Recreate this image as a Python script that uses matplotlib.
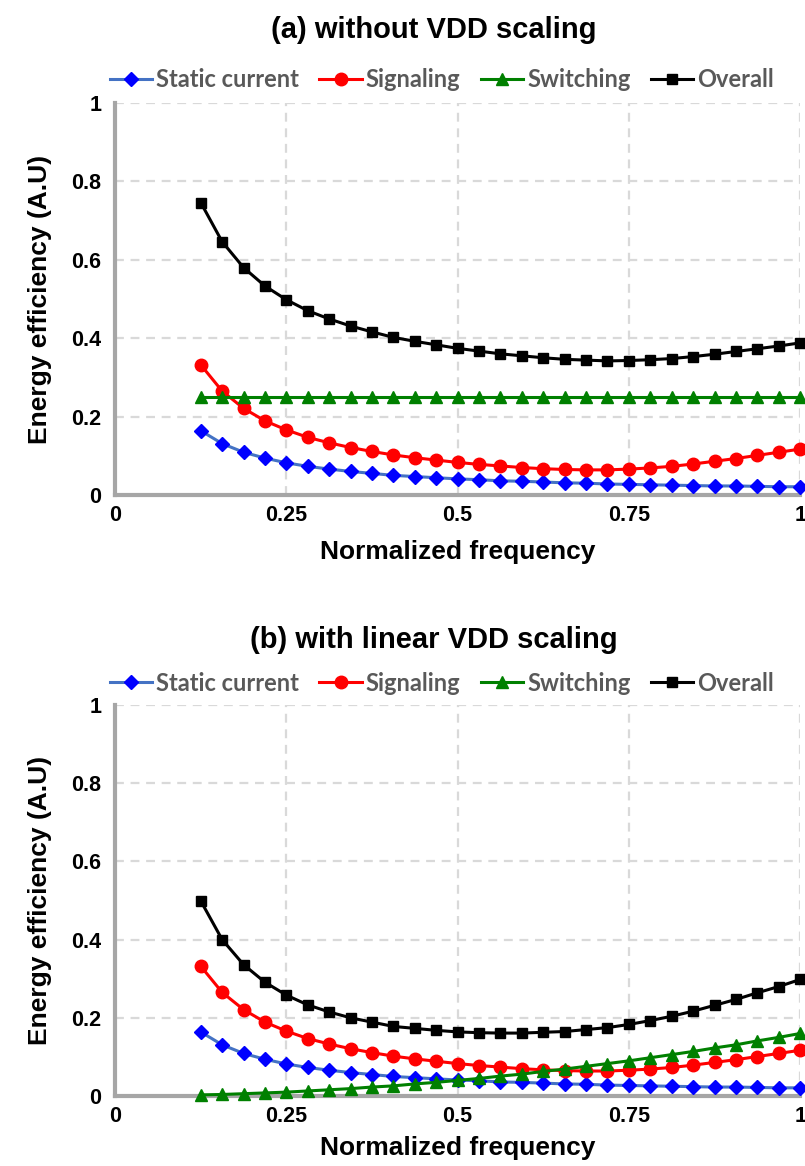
import matplotlib.pyplot as plt
import numpy as np

# normalized frequency points
freq = [0.125, 0.15625, 0.1875, 0.21875, 0.25, 0.28125, 0.3125, 0.34375,
        0.375, 0.40625, 0.4375, 0.46875, 0.5, 0.53125, 0.5625, 0.59375,
        0.625, 0.65625, 0.6875, 0.71875, 0.75, 0.78125, 0.8125, 0.84375,
        0.875, 0.90625, 0.9375, 0.96875, 1.0]

static_current = [0.164, 0.131, 0.109, 0.094, 0.082, 0.073, 0.066, 0.060,
                  0.055, 0.050, 0.047, 0.044, 0.041, 0.039, 0.036, 0.035,
                  0.033, 0.031, 0.030, 0.028, 0.027, 0.026, 0.025, 0.024,
                  0.023, 0.023, 0.022, 0.021, 0.021]

signaling = [0.332, 0.265, 0.221, 0.189, 0.166, 0.147, 0.133, 0.121,
             0.111, 0.102, 0.095, 0.089, 0.083, 0.078, 0.074, 0.070,
             0.067, 0.065, 0.064, 0.064, 0.066, 0.069, 0.073, 0.079,
             0.086, 0.093, 0.101, 0.109, 0.117]

# (a) without VDD scaling
switching_a = [0.25] * 29
overall_a = [0.746, 0.646, 0.580, 0.533, 0.498, 0.470, 0.449, 0.431,
             0.416, 0.402, 0.392, 0.383, 0.374, 0.367, 0.360, 0.355,
             0.350, 0.346, 0.344, 0.342, 0.343, 0.345, 0.348, 0.353,
             0.359, 0.366, 0.373, 0.380, 0.388]

# (b) with linear VDD scaling
switching_b = [0.003, 0.004, 0.006, 0.008, 0.010, 0.013, 0.016, 0.019,
               0.023, 0.026, 0.031, 0.035, 0.040, 0.045, 0.051, 0.056,
               0.063, 0.069, 0.076, 0.083, 0.090, 0.098, 0.106, 0.114,
               0.123, 0.131, 0.141, 0.150, 0.160]
overall_b = [0.499, 0.400, 0.336, 0.291, 0.258, 0.233, 0.215, 0.200,
             0.189, 0.178, 0.173, 0.168, 0.164, 0.162, 0.161, 0.161,
             0.163, 0.165, 0.170, 0.175, 0.183, 0.193, 0.204, 0.217,
             0.232, 0.247, 0.264, 0.280, 0.298]

titles = ['(a) without VDD scaling', '(b) with linear VDD scaling']
xticks = [0, 0.25, 0.5, 0.75, 1]
xticklabels = ['0', '0.25', '0.5', '0.75', '1']
yticks = [0, 0.2, 0.4, 0.6, 0.8, 1]
yticklabels = ['0', '0.2', '0.4', '0.6', '0.8', '1']

plt.rcParams['font.family'] = ['Liberation Sans', 'DejaVu Sans']

fig = plt.figure(figsize=(8.05, 11.66), dpi=100)
ax_a = fig.add_axes([0.143, 0.5755, 0.851, 0.3362])
ax_b = fig.add_axes([0.143, 0.0600, 0.851, 0.3354])

# axes, switching, overall, title y, legend y, xlabel pad
panels = [(ax_a, switching_a, overall_a, 1.186, 1.059, 10),
          (ax_b, switching_b, overall_b, 1.166, 1.056, 7)]

for i, (ax, sw, ov, title_y, leg_y, xpad) in enumerate(panels):
    ax.plot(freq, static_current, color='#4472C4', lw=2.2, marker='D',
            ms=7, mfc='#0000FF', mec='#0000FF', label='Static current', clip_on=False, zorder=3)
    ax.plot(freq, signaling, color='#FF0000', lw=2.2, marker='o',
            ms=9, label='Signaling', clip_on=False, zorder=3)
    ax.plot(freq, sw, color='#008000', lw=2.2, marker='^',
            ms=9, label='Switching', clip_on=False, zorder=3)
    ax.plot(freq, ov, color='#000000', lw=2.2, marker='s',
            ms=7.5, label='Overall', clip_on=False, zorder=4)

    ax.set_xlim(0, 1)
    ax.set_ylim(0, 1)
    ax.set_xticks(xticks)
    ax.set_xticklabels(xticklabels)
    ax.set_yticks(yticks)
    ax.set_yticklabels(yticklabels)
    ax.tick_params(length=0, labelsize=15.5)
    ax.tick_params(axis='x', pad=7)
    ax.tick_params(axis='y', pad=10)
    for lab in ax.get_xticklabels() + ax.get_yticklabels():
        lab.set_fontweight('bold')

    ax.grid(True, color='#D9D9D9', ls=(0, (4, 3)), lw=1.6)
    ax.set_axisbelow(True)
    for s in ['top', 'right']:
        ax.spines[s].set_visible(False)
    for s in ['left', 'bottom']:
        ax.spines[s].set_color('#A6A6A6')
        ax.spines[s].set_linewidth(3)

    ax.set_xlabel('Normalized frequency', fontsize=19, fontweight='bold', labelpad=xpad)
    ax.set_ylabel('Energy efficiency (A.U)', fontsize=19, fontweight='bold', labelpad=14)

    leg = ax.legend(loc='center', bbox_to_anchor=(0.477, leg_y), ncol=4, frameon=False,
                    handlelength=1.8, columnspacing=0.85, handletextpad=0.17,
                    borderaxespad=0, borderpad=0,
                    prop={'family': 'Lato', 'weight': 'bold', 'size': 17})
    for t in leg.get_texts():
        t.set_color('#595959')

    ax.text(0.465, title_y, titles[i], transform=ax.transAxes, ha='center', va='center',
            fontsize=21, fontweight='bold')

fig.savefig('out.png', dpi=100)
